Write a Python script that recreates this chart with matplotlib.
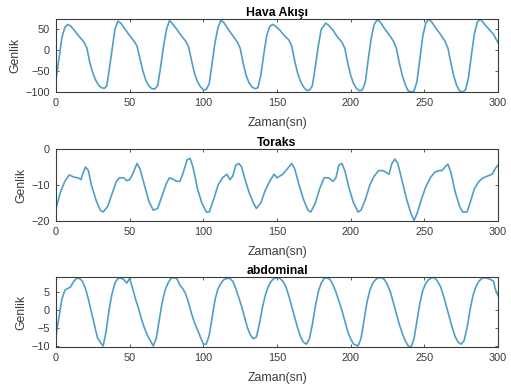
import matplotlib
matplotlib.use("Agg")
import matplotlib.pyplot as plt

# ---- Data ----
hava_t = [0, 2, 4, 6, 8, 10, 13, 16, 19, 21, 23, 25, 27, 29, 31, 33, 34.5, 36, 38, 40, 42, 44, 47, 50, 53, 55,
          57, 59, 61, 63, 65, 67, 69, 71, 73, 75, 77, 79, 82, 85, 88, 90, 92, 94, 96, 98, 100, 102, 104, 106,
          108, 110, 112, 114, 117, 120, 123, 125, 127, 129, 131, 133, 135, 137, 139, 141, 143, 145, 147, 149,
          152, 155, 158, 160, 162, 164, 166, 168, 170, 172, 174, 176, 178, 180, 183, 185, 188, 191, 194, 196,
          198, 200, 202, 204, 206, 208, 210, 212, 214, 216, 218, 220, 223, 226, 229, 231, 233, 235, 237, 239,
          241, 243, 245, 247, 249, 251, 253, 255, 258, 261, 264, 266, 268, 270, 272, 274, 276, 278, 280, 282,
          284, 286, 288, 291, 294, 297, 300]
hava_v = [-70, -20, 30, 55, 62, 58, 45, 32, 20, 5, -30, -55, -72, -84, -90, -91, -85, -50, 0, 50, 70, 65, 50, 35, 22, 10,
          -20, -50, -72, -85, -92, -93, -85, -40, 10, 50, 71, 64, 50, 35, 22, 8, -25, -55, -75, -87, -95, -94, -80, -30,
          20, 55, 72, 66, 50, 35, 20, 5, -30, -60, -78, -88, -92, -90, -60, -10, 35, 57, 62, 58,
          48, 35, 25, 10, -25, -55, -75, -88, -96, -96, -85, -40, 10, 50, 65, 60, 48, 32, 20, 5,
          -30, -60, -80, -92, -97, -95, -75, -20, 30, 62, 73, 68, 52, 38, 22, 5, -30, -60, -82, -97,
          -100, -98, -75, -20, 35, 65, 75, 68, 52, 38, 22, 5, -30, -62, -85, -98, -100, -95, -65, -10,
          40, 68, 75, 62, 50, 38, 18]

toraks_t = [0, 3, 6, 9, 12, 15, 17, 18, 20, 22, 24, 27, 30, 32, 35, 38, 41, 43, 46, 48, 50, 52, 55, 57, 60, 63,
            66, 69, 72, 75, 77, 80, 82, 84, 86, 89, 91, 93, 96, 99, 102, 104, 107, 110, 113, 116, 118, 120, 122,
            124, 126, 128, 131, 134, 136, 139, 142, 145, 148, 150, 152, 154, 157, 160, 162, 165, 168, 171, 173,
            176, 179, 182, 185, 188, 190, 192, 194, 196, 199, 202, 205, 207, 210, 213, 216, 219, 222, 224, 226,
            228, 230, 232, 235, 238, 241, 243, 245, 248, 251, 254, 257, 260, 262, 264, 266, 268, 271, 274, 276,
            279, 281, 284, 287, 290, 293, 296, 298, 300]
toraks_v = [-16.5, -12, -9, -7.2, -7.8, -8, -8.5, -7, -5, -6, -10, -14, -17, -17.5, -16, -12.5, -9, -8, -8, -8.8, -8.5,
            -7, -4, -5.5, -10, -14.5, -17, -16.5, -13, -9.5, -8, -8.5, -9, -9, -7, -3, -2.6, -5, -11, -15, -17.5,
            -17.5, -14, -10, -8, -7, -8.5, -7.5, -4.5, -4, -5, -8, -12, -15, -16.5, -15, -11.5, -9, -7, -8, -7.5,
            -7, -5.5, -4, -5.5, -10, -14, -17, -17.5, -15, -11, -8, -8, -9, -8, -4.5, -4, -6, -11, -15, -17.5,
            -17, -14, -10, -7.5, -6, -6, -6.5, -7, -4, -2.8, -4, -9, -14, -18, -19.8, -18, -14, -10.5, -8, -6.5,
            -6, -6, -5, -4.2, -6.5, -12, -16, -17.5, -17.5, -15, -11, -9, -8, -7.5, -7, -5.5, -4.5]

abd_t = [0, 2, 4, 6, 8, 10, 12, 14, 16, 18, 20, 22, 24, 26, 28, 30, 32, 34, 36, 38, 40, 42, 44, 46, 48, 50, 52, 54,
         56, 58, 60, 62, 64, 66, 68, 70, 72, 74, 76, 78, 80, 82, 84, 86, 88, 90, 92, 94, 96, 98, 100, 102, 104, 106,
         108, 110, 112, 114, 116, 118, 120, 122, 124, 126, 128, 130, 132, 134, 136, 138, 140, 142, 144, 146, 148,
         150, 152, 154, 156, 158, 160, 162, 164, 166, 168, 170, 172, 174, 176, 178, 180, 182, 184, 186, 188, 190,
         192, 194, 196, 198, 200, 202, 205, 207, 209, 211, 213, 215, 217, 219, 221, 223, 225, 227, 229, 231, 233,
         235, 237, 239, 241, 243, 245, 247, 249, 251, 253, 255, 257, 259, 261, 263, 265, 267, 269, 271, 273, 275,
         277, 279, 281, 283, 285, 287, 289, 291, 293, 295, 297, 298, 300]
abd_v = [-7, -2, 3, 5.5, 6, 6.5, 8, 8.8, 8.8, 8, 6, 3, -0.5, -4, -7.5, -9, -10, -6, 0, 4.5, 7.5, 8.8, 8.9, 8.5, 7.5,
         8.8, 6, 3, 0.5, -2.5, -5, -7, -8.5, -10, -8, -3, 2, 5.5, 7.5, 8.8, 9, 8.8, 7, 6, 4.5, 2, -1, -3.5, -5.5,
         -7.5, -9.5, -9.5, -7, -2, 3, 6, 7.5, 8.5, 8.8, 8.8, 8, 6, 3.5, 1, -2, -5, -7, -8, -7.5, -4, 0.5, 4, 6.5,
         8, 8.8, 9, 8.8, 8, 6.5, 4, 1, -2, -5, -7.5, -9, -9.5, -8, -4, 1, 5, 7.5, 8.8, 9, 8.5, 7, 5, 2.5, 0, -3,
         -6, -8, -9.5, -10, -8, -3, 2, 5.5, 7.5, 8.5, 9, 9, 8.5, 7, 5, 2, -1, -4, -6.5, -8.5, -10, -10.3, -8, -3,
         2, 5.5, 7.5, 8.5, 9, 9, 8, 6.5, 4, 1, -2, -5, -7.5, -9, -9.5, -8.5, -5, 0, 4, 6.5, 8, 8.8, 9, 8.8, 8.5,
         8, 6, 4]

titles = ["Hava Akışı", "Toraks", "abdominal"]
xlabel = "Zaman(sn)"
ylabel = "Genlik"
xticks = [0, 50, 100, 150, 200, 250, 300]
yticks = [[-100, -50, 0, 50], [-20, -10, 0], [-10, -5, 0, 5]]
ylims = [(-100, 75), (-20, 0), (-10.3, 9.2)]

plt.rcParams['font.family'] = ['Liberation Sans', 'DejaVu Sans']
fig = plt.figure(figsize=(5.11, 3.89), dpi=100)

W, H = 511, 389
boxes = [(56, 19, 498, 92), (56, 149, 498, 221), (56, 277, 498, 347)]
series = [(hava_t, hava_v), (toraks_t, toraks_v), (abd_t, abd_v)]
line_color = '#4f9fc6'
grey = '#3a3a3a'

for i, (box, (t, v)) in enumerate(zip(boxes, series)):
    l, tp, r, b = box
    ax = fig.add_axes([l / W, 1 - b / H, (r - l) / W, (b - tp) / H])
    ax.plot(t, v, color=line_color, lw=1.2)
    ax.set_xlim(0, 300)
    ax.set_ylim(*ylims[i])
    ax.set_xticks(xticks)
    ax.set_yticks(yticks[i])
    ax.tick_params(direction='in', length=2.5, width=0.6, labelsize=7.8, colors=grey,
                   top=True, right=True, pad=4.5)
    for s in ax.spines.values():
        s.set_linewidth(0.8)
        s.set_color(grey)
    ax.set_title(titles[i], fontsize=8.8, fontweight='bold', pad=2)
    ax.set_xlabel(xlabel, fontsize=8.8, color=grey, labelpad=6.5)
    ax.set_ylabel(ylabel, fontsize=8.8, color=grey, labelpad=3)

fig.savefig("out.png", dpi=100)
